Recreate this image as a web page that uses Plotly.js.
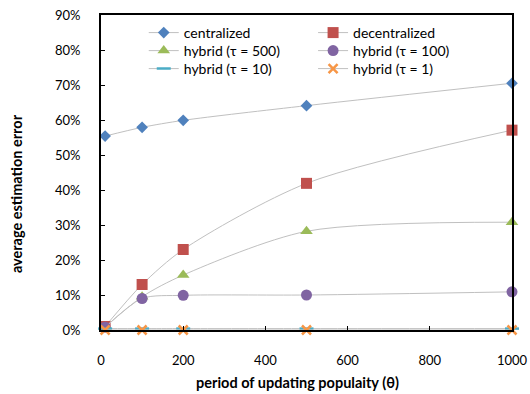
<!DOCTYPE html>
<html><head><meta charset="utf-8">
<script src="https://cdn.plot.ly/plotly-3.0.1.min.js"></script>
<style>html,body{margin:0;padding:0;background:#fff}#chart{width:530px;height:394px}</style>
</head><body><div id="chart"></div>
<script>
const periods = [10, 100, 200, 500, 1000];
const seriesNames = ["centralized", "decentralized", "hybrid (τ = 500)", "hybrid (τ = 100)", "hybrid (τ = 10)", "hybrid (τ = 1)"];
const centralized = [0.554, 0.579, 0.599, 0.641, 0.705];
const decentralized = [0.010, 0.130, 0.230, 0.419, 0.571];
const hybrid500 = [0.008, 0.095, 0.157, 0.282, 0.308];
const hybrid100 = [0.008, 0.090, 0.099, 0.100, 0.109];
const hybrid10 = [0.004, 0.004, 0.004, 0.004, 0.004];
const hybrid1 = [0.000, 0.000, 0.000, 0.000, 0.000];
const yTicks = [0, 0.1, 0.2, 0.3, 0.4, 0.5, 0.6, 0.7, 0.8, 0.9];
const xTicks = [0, 200, 400, 600, 800, 1000];
const xTitle = "period of updating populaity (θ)";
const yTitle = "average estimation error";

const values = [centralized, decentralized, hybrid500, hybrid100, hybrid10, hybrid1];
const colors = ["#4F81BD", "#C0504D", "#9BBB59", "#8064A2", "#4BACC6", "#F79646"];
const symbols = ["diamond", "square", "triangle-up", "circle", "line-ew", "x-thin"];
const sizes = [9, 11, 11, 11, 10, 9];
const legendIds = ["legend", "legend2", "legend3", "legend4", "legend5", "legend6"];

const traces = values.map((v, i) => ({
  x: periods, y: v, name: seriesNames[i], type: "scatter", mode: "lines+markers",
  legend: legendIds[i],
  line: {color: "#c0c0c0", width: 1, shape: "spline", smoothing: 0.8},
  marker: {symbol: symbols[i], size: sizes[i], color: colors[i],
    line: {color: colors[i], width: (i >= 4 ? 2.5 : 0)}},
  cliponaxis: false
}));

const font = "Lato, 'Open Sans', sans-serif";
const legendFont = {family: font, size: 14, color: "#000"};
const colX = [0.104, 0.516];
const rowY = [0.9937, 0.9365, 0.8794];

const layout = {
  width: 530, height: 394,
  margin: {l: 101, r: 18, t: 15, b: 64},
  paper_bgcolor: "#fff", plot_bgcolor: "#fff",
  font: {family: font, size: 13, color: "#000"},
  showlegend: true,
  xaxis: {range: [0, 1000], tickvals: xTicks, ticks: "inside", ticklen: 4, tickcolor: "#000",
    showline: true, linecolor: "#000", linewidth: 2, mirror: true, showgrid: false, zeroline: false,
    ticklabelstandoff: 17},
  yaxis: {range: [0, 0.9], tickvals: yTicks, tickformat: ".0%", ticks: "inside", ticklen: 4, tickcolor: "#000",
    showline: true, linecolor: "#000", linewidth: 2, mirror: true, showgrid: false, zeroline: false,
    ticklabelstandoff: 16},
  annotations: [
    {text: "<b>" + xTitle + "</b>", xref: "paper", yref: "paper", x: 0.479, y: -0.167,
     xanchor: "center", yanchor: "middle", showarrow: false, font: {family: font, size: 14.5}},
    {text: "<b>" + yTitle + "</b>", xref: "paper", yref: "paper", x: -0.204, y: 0.432,
     xanchor: "center", yanchor: "middle", textangle: -90, showarrow: false, font: {family: font, size: 14.5}}
  ]
};
legendIds.forEach((id, i) => {
  layout[id] = {x: colX[i % 2], xanchor: "left", y: rowY[Math.floor(i / 2)], yanchor: "top",
    bgcolor: "rgba(0,0,0,0)", font: legendFont, itemwidth: 30};
});
Plotly.newPlot("chart", traces, layout, {displayModeBar: false, staticPlot: true});
</script></body></html>
